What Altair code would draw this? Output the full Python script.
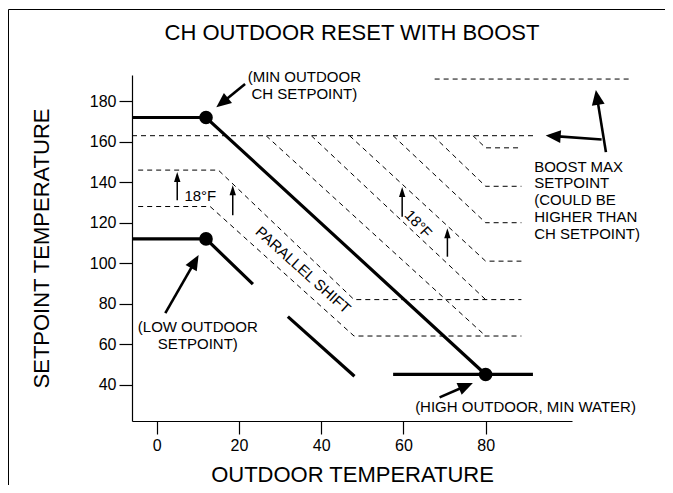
import math
import altair as alt
import pandas as pd

FONT = "Liberation Sans"
X_DOMAIN = [-6, 101]
Y_DOMAIN = [22, 193]
PLOT_W, PLOT_H = 440, 346

X_TICKS = [0, 20, 40, 60, 80]
Y_TICKS = [40, 60, 80, 100, 120, 140, 160, 180]

# thick solid curves
CH_X = [-6, 12, 80]
CH_Y = [172, 172, 45]
LOW1_X = [-6, 12, 23.4]
LOW1_Y = [112, 112, 89.6]
LOW2_X = [31.9, 48.1]
LOW2_Y = [73.6, 44.1]
HIGH_X = [57.5, 91.5]
HIGH_Y = [45, 45]

DOT_X = [12, 12, 80]
DOT_Y = [172, 112, 45]

# dashed curves
SHIFT1_X = [-4.5, 13, 48, 88.7]
SHIFT1_Y = [128, 128, 64, 64]
SHIFT2_X = [-4.5, 15, 48, 88.7]
SHIFT2_Y = [146, 146, 82, 82]
BOOST_X = [-6, 92]
BOOST_Y = [163, 163]
BOOSTTOP_X = [67.6, 115.5]
BOOSTTOP_Y = [191, 191]
DIAG_START_X = [26.6, 37.6, 46.9, 57.5, 67.2, 76.9]
DIAG_START_Y = [163, 163, 163, 163, 163, 163]
DIAG_END_X = [80, 80, 80, 80, 80, 80]
DIAG_END_Y = [64, 82, 101, 120, 138, 157]
DIAG_TAIL_X = [None, None, 88.7, 88.7, 88.7, 88.7]

# annotation arrows
BIG_TAIL_X = [21.5, 2.1, 68.8, 109.25, 108.2]
BIG_TAIL_Y = [188.5, 75.3, 33.7, 154.9, 161.1]
BIG_TIP_X = [14.5, 10.2, 76.9, 106.8, 94.6]
BIG_TIP_Y = [177.0, 104.0, 40.8, 185.6, 163.1]

SMALL_X = [5.0, 18.5, 59.7, 70.7]
SMALL_Y0 = [131.1, 123.7, 122.9, 103.2]
SMALL_Y1 = [145.0, 138.5, 137.6, 117.2]

# texts
TEXT_C = ["(MIN OUTDOOR", "CH SETPOINT)", "(LOW OUTDOOR", "SETPOINT)", "(HIGH OUTDOOR, MIN WATER)"]
TEXT_C_X = [35.9, 35.9, 10.0, 10.0, 89.7]
TEXT_C_Y = [192.2, 183.4, 68.5, 60.3, 28.7]

TEXT_L = ["18°F", "BOOST MAX", "SETPOINT", "(COULD BE", "HIGHER THAN", "CH SETPOINT)"]
TEXT_L_X = [6.75, 91.8, 91.8, 91.8, 91.8, 91.8]
TEXT_L_Y = [133.4, 147.7, 139.5, 131.2, 122.8, 114.4]

TEXT_R = ["PARALLEL SHIFT", "18°F"]
TEXT_R_X = [35.6, 63.6]
TEXT_R_Y = [96.6, 119.4]
TEXT_R_ANGLE = [42, 47]

# ---------------------------------------------------------------
def series_rows(name, xs, ys):
    return [{"series": name, "order": i, "x": x, "y": y} for i, (x, y) in enumerate(zip(xs, ys))]

solid_rows = (series_rows("ch", CH_X, CH_Y) + series_rows("low1", LOW1_X, LOW1_Y)
              + series_rows("low2", LOW2_X, LOW2_Y) + series_rows("high", HIGH_X, HIGH_Y))
dash_rows = (series_rows("s1", SHIFT1_X, SHIFT1_Y) + series_rows("s2", SHIFT2_X, SHIFT2_Y)
             + series_rows("boost", BOOST_X, BOOST_Y) + series_rows("top", BOOSTTOP_X, BOOSTTOP_Y))
for i in range(len(DIAG_START_X)):
    xs_ = [DIAG_START_X[i], DIAG_END_X[i]]
    ys_ = [DIAG_START_Y[i], DIAG_END_Y[i]]
    if DIAG_TAIL_X[i] is not None:
        xs_.append(DIAG_TAIL_X[i])
        ys_.append(DIAG_END_Y[i])
    dash_rows += series_rows(f"d{i}", xs_, ys_)

solid_df = pd.DataFrame(solid_rows)
dash_df = pd.DataFrame(dash_rows)
dots_df = pd.DataFrame({"x": DOT_X, "y": DOT_Y})

SX = PLOT_W / (X_DOMAIN[1] - X_DOMAIN[0])
SY = PLOT_H / (Y_DOMAIN[1] - Y_DOMAIN[0])


def arrow_rows(tx, ty, hx, hy, head_len):
    rows = []
    for a, b, c, d in zip(tx, ty, hx, hy):
        px, py = (c - a) * SX, -(d - b) * SY
        length = math.hypot(px, py)
        ang = math.degrees(math.atan2(px, -py)) % 360
        frac = (head_len * 0.6) / length
        rows.append({"x": a, "y": b, "x2": c - frac * (c - a), "y2": d - frac * (d - b),
                     "hx": c, "hy": d, "angle": ang})
    return pd.DataFrame(rows)


big_df = arrow_rows(BIG_TAIL_X, BIG_TAIL_Y, BIG_TIP_X, BIG_TIP_Y, 15)
small_df = arrow_rows(SMALL_X, SMALL_Y0, SMALL_X, SMALL_Y1, 10)

xs = alt.Scale(domain=X_DOMAIN, nice=False, zero=False)
ys = alt.Scale(domain=Y_DOMAIN, nice=False, zero=False)

X = alt.X("x:Q", scale=xs, title="OUTDOOR TEMPERATURE",
          axis=alt.Axis(values=X_TICKS, titlePadding=11))
Y = alt.Y("y:Q", scale=ys, title="SETPOINT TEMPERATURE",
          axis=alt.Axis(values=Y_TICKS, titlePadding=36))

base_x = alt.X("x:Q", scale=xs)
base_y = alt.Y("y:Q", scale=ys)

solid = alt.Chart(solid_df).mark_line(color="black", strokeWidth=3.2, strokeCap="butt").encode(
    x=X, y=Y, detail="series:N", order="order:Q")
dashed = alt.Chart(dash_df).mark_line(color="black", strokeWidth=1, strokeDash=[5, 4]).encode(
    x=base_x, y=base_y, detail="series:N", order="order:Q")
dots = alt.Chart(dots_df).mark_point(filled=True, color="black", opacity=1, size=185).encode(
    x=base_x, y=base_y)

big_shaft = alt.Chart(big_df).mark_rule(color="black", strokeWidth=2.6).encode(
    x=base_x, y=base_y, x2="x2:Q", y2="y2:Q")
big_head = alt.Chart(big_df).mark_point(
    filled=True, color="black", opacity=1, size=900, shape="M0,0L0.43,1L-0.43,1Z").encode(
    x=alt.X("hx:Q", scale=xs), y=alt.Y("hy:Q", scale=ys), angle=alt.Angle("angle:Q", scale=None))
small_shaft = alt.Chart(small_df).mark_rule(color="black", strokeWidth=1.5).encode(
    x=base_x, y=base_y, x2="x2:Q", y2="y2:Q")
small_head = alt.Chart(small_df).mark_point(
    filled=True, color="black", opacity=1, size=400, shape="M0,0L0.32,1L-0.32,1Z").encode(
    x=alt.X("hx:Q", scale=xs), y=alt.Y("hy:Q", scale=ys), angle=alt.Angle("angle:Q", scale=None))

tc = alt.Chart(pd.DataFrame({"t": TEXT_C, "x": TEXT_C_X, "y": TEXT_C_Y})).mark_text(
    font=FONT, fontSize=15, color="black", align="center", baseline="middle").encode(
    x=base_x, y=base_y, text="t:N")
tl = alt.Chart(pd.DataFrame({"t": TEXT_L, "x": TEXT_L_X, "y": TEXT_L_Y})).mark_text(
    font=FONT, fontSize=15, color="black", align="left", baseline="middle").encode(
    x=base_x, y=base_y, text="t:N")
tr = alt.Chart(pd.DataFrame({"t": TEXT_R, "x": TEXT_R_X, "y": TEXT_R_Y, "a": TEXT_R_ANGLE})).mark_text(
    font=FONT, fontSize=15, color="black", align="center", baseline="middle").encode(
    x=base_x, y=base_y, text="t:N", angle=alt.Angle("a:Q", scale=None))

frame_df = pd.DataFrame({"k": [0]})
frame_v = alt.Chart(frame_df).mark_rule(color="black", strokeWidth=1).encode(
    x=alt.value(-123.5), y=alt.value(-65.5), y2=alt.value(480))
frame_h = alt.Chart(frame_df).mark_rule(color="black", strokeWidth=1).encode(
    x=alt.value(-123.5), x2=alt.value(600), y=alt.value(-65.5))

chart = alt.layer(
    dashed, solid, dots, big_shaft, big_head, small_shaft, small_head, tc, tl, tr, frame_v, frame_h
).properties(
    width=PLOT_W, height=PLOT_H,
    title=alt.TitleParams("CH OUTDOOR RESET WITH BOOST", font=FONT, fontSize=22,
                          fontWeight="normal", color="black", anchor="middle",
                          frame="group", offset=0, dy=36),
    autosize=alt.AutoSizeParams(type="none"),
    padding={"left": 124, "top": 67, "right": 93, "bottom": 64},
    background="white",
).configure_view(stroke=None).configure_axis(
    grid=False, domainColor="black", tickColor="black", labelColor="black",
    titleColor="black", labelFont=FONT, titleFont=FONT, labelFontSize=16,
    titleFontSize=22, titleFontWeight="normal", tickSize=13, labelPadding=3,
    domainWidth=1.2, tickWidth=1.2,
)

chart.save("out.html", embed_options={"renderer": "svg", "actions": False})
